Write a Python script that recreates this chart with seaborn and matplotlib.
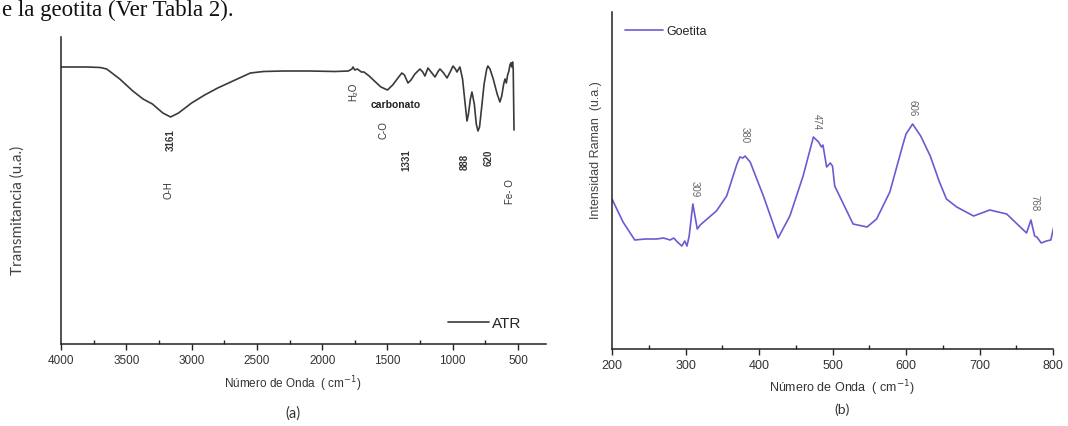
import matplotlib
matplotlib.use("Agg")
import matplotlib.pyplot as plt
import seaborn as sns
import pandas as pd

# ---------------- data ----------------
# (a) FTIR-ATR spectrum: wavenumber (cm-1) and transmittance (a.u.)
ir_wavenumber = [4000, 3800, 3700, 3650, 3550, 3450, 3372, 3300, 3220, 3161, 3100, 3000,
                 2900, 2800, 2700, 2600, 2550, 2450, 2300, 2100, 1900, 1800, 1772, 1764,
                 1750, 1730, 1700, 1680, 1640, 1600, 1550, 1500, 1460, 1420, 1390, 1370,
                 1343, 1320, 1290, 1251, 1230, 1213, 1190, 1160, 1136, 1110, 1098, 1070,
                 1044, 1020, 998, 980, 968, 955, 945, 925, 905, 891, 880, 865, 853, 835,
                 820, 807, 795, 780, 760, 740, 731, 715, 690, 660, 639, 625, 610, 600,
                 590, 580, 570, 562, 555, 548, 542, 537, 531]
ir_transmittance = [277, 277, 276.5, 275, 265, 253, 245, 240, 231, 227, 231, 241,
                    249, 256, 262, 268, 271, 272.5, 273, 273, 272.5, 273, 275, 277,
                    274, 275, 272, 272, 268, 263, 257, 254, 259, 266, 271, 269,
                    261, 264, 270, 275, 272, 268, 276, 271, 267, 273, 275, 271,
                    266, 272, 278, 275, 272, 275, 277, 265, 240, 223, 230, 245, 252, 240,
                    220, 213, 217, 235, 260, 275, 278, 275, 265, 250, 242, 248, 260, 265,
                    261, 269, 273, 279, 281, 277, 282, 275, 214]
ir_band_labels = ["3161", "O-H", "H\u2082O", "carbonato", "C-O", "1331", "888", "620", "Fe- O"]
ir_band_x = [3161, 3175, 1760, 1435, 1527, 1353, 907, 728, 562]
ir_band_y = [205, 155, 253, 240, 215, 185, 183, 187, 153]

# (b) Raman spectrum: Raman shift (cm-1) and intensity (a.u.)
raman_shift = [200, 215, 231, 245, 261, 270, 279, 284, 289, 295, 299, 302, 305, 310, 316,
               320, 342, 356, 370, 374, 378, 381, 388, 406, 426, 442, 460, 474, 481, 485,
               487, 492, 497, 500, 503, 528, 547, 560, 578, 596, 600, 609, 620, 633, 645,
               655, 669, 692, 714, 737, 764, 770, 775, 778, 784, 791, 797, 801]
raman_intensity = [150, 127, 109, 110, 110, 111, 109, 111, 107, 103, 108, 103, 113, 145, 120,
                   124, 138, 153, 185, 192, 191, 193, 187, 153, 111, 133, 173, 212, 207, 202,
                   204, 182, 186, 183, 163, 125, 122, 130, 157, 205, 215, 225, 213, 193, 168,
                   150, 142, 133, 139, 135, 116, 129, 113, 112, 106, 108, 109, 122]
raman_peak_labels = ["309", "380", "474", "606", "768"]
raman_peak_x = [313, 381, 478, 609, 775]
raman_peak_y = [161, 215, 228, 242, 147]

ir_ticks = [4000, 3500, 3000, 2500, 2000, 1500, 1000, 500]
raman_ticks = [200, 300, 400, 500, 600, 700, 800]

# ---------------- style ----------------
sns.set_theme(style="ticks")
plt.rcParams["font.family"] = ["Liberation Sans", "DejaVu Sans"]

W, H = 1068, 427
fig = plt.figure(figsize=(W / 100, H / 100), dpi=100)

def fx(px):
    return px / W

def fy(py):
    return 1 - py / H

ir_df = pd.DataFrame({"wn": ir_wavenumber, "T": ir_transmittance, "s": "ATR"})
ra_df = pd.DataFrame({"wn": raman_shift, "I": raman_intensity, "s": "Goetita"})

# ---------------- panel (a) ----------------
axa = fig.add_axes([fx(61), fy(345), fx(546) - fx(61), fy(38) - fy(345)])
sns.lineplot(data=ir_df, x="wn", y="T", ax=axa, color="#3a3a3a", lw=1.2,
             estimator=None, sort=False, label="ATR")
axa.set_xlim(4000, 286)
axa.set_ylim(0, 307)
axa.set_xticks(ir_ticks)
axa.set_xticks([3750, 3250, 2750, 2250, 1750, 1250, 750], minor=True)
axa.set_yticks([])
axa.set_xlabel("")
axa.set_ylabel("")
for s in ["top", "right"]:
    axa.spines[s].set_visible(False)
for s in ["left", "bottom"]:
    axa.spines[s].set_color("#222222")
    axa.spines[s].set_linewidth(1.1)
axa.tick_params(axis="x", which="major", direction="out", length=4, width=1,
                colors="#222222", labelsize=8.5, labelcolor="#333333", pad=3)
axa.tick_params(axis="x", which="minor", direction="in", length=3, width=1, colors="#222222")
for lab, xx, yy in zip(ir_band_labels, ir_band_x, ir_band_y):
    if lab == "carbonato":
        axa.text(xx, yy, lab, rotation=0, ha="center", va="center", fontsize=7.5,
                 fontweight="bold", color="#222222")
    else:
        bold = lab[0].isdigit()
        axa.text(xx, yy, lab, rotation=90, ha="center", va="center", fontsize=7,
                 fontweight="bold" if bold else "normal", color="#333333")
axa.legend(frameon=False, loc="center left", bbox_to_anchor=(fx(448), fy(324)),
           bbox_transform=fig.transFigure, borderaxespad=0, borderpad=0,
           handlelength=2.7, handletextpad=0.15, fontsize=11)
fig.text(fx(18), fy(210), "Transmitancia (u.a.)", rotation=90, ha="center", va="center",
         fontsize=11, color="#444444", family=["Lato", "DejaVu Sans"])
fig.text(fx(293), fy(384), "Número de Onda  ( cm$^{-1}$)", ha="center", va="center",
         fontsize=8.5, color="#333333")
fig.text(fx(293), fy(414), "(a)", ha="center", va="center", fontsize=10.5,
         color="#333333", family=["Lato", "DejaVu Sans"])

# ---------------- panel (b) ----------------
axb = fig.add_axes([fx(612), fy(350), fx(1053) - fx(612), fy(13) - fy(350)])
sns.lineplot(data=ra_df, x="wn", y="I", ax=axb, color="#6a5bd2", lw=1.2,
             estimator=None, sort=False, label="Goetita")
axb.set_xlim(200, 800)
axb.set_ylim(0, 337)
axb.set_xticks(raman_ticks)
axb.set_xticks([250, 350, 450, 550, 650, 750], minor=True)
axb.set_yticks([])
axb.set_xlabel("")
axb.set_ylabel("")
for s in ["top", "right"]:
    axb.spines[s].set_visible(False)
for s in ["left", "bottom"]:
    axb.spines[s].set_color("#222222")
    axb.spines[s].set_linewidth(1.1)
axb.tick_params(axis="x", which="major", direction="out", length=4, width=1,
                colors="#222222", labelsize=9, labelcolor="#333333", pad=3)
axb.tick_params(axis="x", which="minor", direction="in", length=3, width=1, colors="#222222")
for lab, xx, yy in zip(raman_peak_labels, raman_peak_x, raman_peak_y):
    axb.text(xx, yy, lab, rotation=270, ha="center", va="center", fontsize=7,
             color="#666666")
axb.legend(frameon=False, loc="center left", bbox_to_anchor=(fx(625), fy(32)),
           bbox_transform=fig.transFigure, borderaxespad=0, borderpad=0,
           handlelength=3.0, handletextpad=0.3, fontsize=9)
fig.text(fx(596), fy(150), "Intensidad Raman  (u.a.)", rotation=90, ha="center",
         va="center", fontsize=9, color="#444444")
fig.text(fx(842), fy(388), "Número de Onda  ( cm$^{-1}$)", ha="center", va="center",
         fontsize=9, color="#333333")
fig.text(fx(842), fy(410), "(b)", ha="center", va="center", fontsize=10,
         color="#333333", family=["Lato", "DejaVu Sans"])

# ---------------- header text fragment ----------------
fig.text(0.002, fy(16), "e la geotita (Ver Tabla 2).", ha="left", va="baseline",
         fontsize=16.5, color="#111111", family=["Liberation Serif", "DejaVu Serif"])

fig.savefig("out.png", dpi=100)
